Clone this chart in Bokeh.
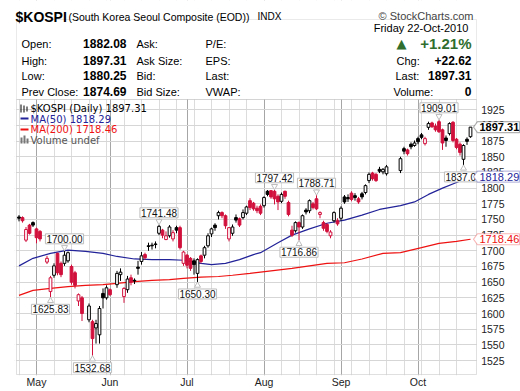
import numpy as np
import pandas as pd
from bokeh.plotting import figure
from bokeh.models import (Range1d, FixedTicker, Label, BoxAnnotation, PolyAnnotation,
                          ColumnDataSource)
from bokeh.embed import file_html
from bokeh.resources import INLINE

# ---------------- data ----------------
dates = pd.bdate_range("2010-04-26", "2010-10-22")   # one slot per weekday
prior_close = 1745.0
open_ = [1754, 1753, 1717, 1741, 1745, 1735, 1731, None, 1682, 1635,
         1661, 1696, 1680, 1680, 1684, 1675, 1665, 1620, 1625, None,
         1590, 1587, 1577, 1566, 1632, 1625, 1638, None, 1646, 1662,
         1627, 1638, 1657, 1653, 1674, 1683, 1694, 1708, 1709, 1711,
         1728, 1733, 1718, 1724, 1719, 1737, 1737, 1680, 1693, 1688,
         1684, 1664, 1692, 1693, 1708, 1727, 1741, 1756, 1761, 1756,
         1719, 1728, 1753, 1751, 1753, 1760, 1780, 1776, 1768, 1771,
         1772, 1795, 1796, 1795, 1787, 1779, 1795, 1777, 1733, 1732,
         1745, 1738, 1765, 1764, 1775, 1783, 1758, 1745, 1742, 1724,
         1748, 1748, 1752, 1786, 1785, 1792, 1788, 1783, 1791, 1793,
         1812, 1824, 1822, 1830, 1826, 1823, None, None, None, 1828,
         1863, 1861, 1870, 1868, 1879, 1885, 1871, 1897, 1904, 1899,
         1906, 1893, 1880, 1887, 1905, 1878, 1870, 1846, 1878, 1882.08]
high = [1757, 1755, 1738, 1743, 1747, 1737, 1733, None, 1692, 1660,
        1680, 1697, 1683, 1700.00, 1699, 1678, 1668, 1632, 1628, None,
        1616, 1590, 1590, 1612, 1640, 1645, 1640, None, 1668, 1672,
        1642, 1660, 1662, 1656, 1684, 1698, 1697, 1713, 1713, 1715,
        1741.48, 1735, 1731, 1741, 1733, 1740, 1740, 1700, 1695, 1690,
        1688, 1688, 1694, 1708, 1728, 1737, 1744, 1764, 1763, 1758,
        1738, 1742, 1758, 1753, 1766, 1772, 1784, 1778, 1772, 1774,
        1787, 1797, 1797, 1797.42, 1790, 1793, 1796, 1780, 1740, 1747,
        1747, 1758, 1768, 1782, 1778, 1788.71, 1763, 1748, 1744, 1733,
        1763, 1752, 1771, 1789, 1790, 1795, 1792, 1786, 1794, 1806,
        1825, 1826, 1824, 1834, 1832, 1837, None, None, None, 1850,
        1866, 1863, 1873, 1876, 1882, 1888, 1882, 1906, 1906, 1903,
        1909.01, 1895, 1884, 1905, 1907, 1880, 1873, 1870, 1881, 1897.31]
low = [1747, 1745, 1714, 1726, 1738, 1712, 1715, None, 1679, 1625.83,
       1657, 1661, 1658, 1676, 1681, 1646, 1640, 1612, 1588, None,
       1586, 1532.68, 1552, 1552, 1608, 1622, 1628, None, 1641, 1652,
       1617, 1633, 1645, 1647, 1662, 1678, 1686, 1700, 1702, 1704,
       1725, 1720, 1717, 1721, 1715, 1728, 1702, 1676, 1672, 1668,
       1662, 1650.30, 1680, 1688, 1705, 1722, 1732, 1750, 1752, 1735,
       1715, 1724, 1745, 1738, 1750, 1757, 1765, 1764, 1760, 1757,
       1769, 1787, 1783, 1774, 1765, 1776, 1783, 1755, 1722, 1729,
       1716.86, 1735, 1758, 1760, 1766, 1765, 1752, 1732, 1728, 1720,
       1745, 1740, 1748, 1775, 1778, 1779, 1780, 1775, 1782, 1790,
       1808, 1812, 1810, 1824, 1822, 1820, None, None, None, 1824,
       1854, 1852, 1862, 1866, 1870, 1878, 1868, 1893, 1896, 1890,
       1888, 1861, 1866, 1884, 1873, 1862, 1852, 1837.06, 1869, 1880.25]
close = [1752, 1748, 1734, 1728, 1741, 1721, 1719, None, 1688, 1657,
         1676, 1665, 1662, 1693, 1697, 1650, 1645, 1630, 1600, None,
         1612, 1560, 1584, 1608, 1625, 1641, 1630, None, 1664, 1666,
         1640, 1655, 1650, 1652, 1672, 1692, 1689, 1707, 1708, 1710,
         1739, 1725, 1724, 1738, 1729, 1733, 1705, 1698, 1677, 1672,
         1678, 1686, 1683, 1705, 1724, 1735, 1737, 1761, 1756, 1740,
         1737, 1738, 1749, 1741, 1761, 1770, 1769, 1767, 1764, 1760,
         1785, 1790, 1786, 1783, 1778, 1790, 1787, 1758, 1725, 1745,
         1738, 1756, 1762, 1780, 1769, 1767, 1761, 1736, 1731, 1730,
         1761, 1743, 1768, 1778, 1783, 1782, 1785, 1778, 1786, 1804,
         1822, 1815, 1812, 1827, 1830, 1834, None, None, None, 1847,
         1859, 1855, 1866, 1872, 1874, 1881, 1879, 1903, 1898, 1893,
         1890, 1872, 1876, 1903, 1876, 1865, 1857, 1868, 1874.69, 1897.31]

# moving averages (slot index, value)
ma50_idx = [0, 4, 9, 14, 19, 24, 28, 33, 38, 43, 47, 52, 55, 59, 63, 67, 69,
            74, 78, 83, 88, 93, 98, 103, 109, 113, 117, 121, 125, 129]
ma50_val = [1676, 1688, 1696, 1701, 1699, 1696, 1691, 1687, 1686, 1686, 1685,
            1680, 1678, 1680, 1686, 1694, 1697, 1713, 1725, 1735, 1744, 1749,
            1757, 1766, 1772, 1778, 1790, 1800, 1809, 1818.29]
ma200_idx = [0, 4, 9, 14, 19, 24, 28, 33, 38, 43, 47, 52, 57, 61, 66, 69, 78,
             88, 93, 98, 104, 109, 115, 120, 125, 129]
ma200_val = [1629, 1637, 1640, 1643, 1645, 1646, 1648, 1651, 1653, 1654, 1656,
             1658, 1659, 1661, 1664, 1666, 1672, 1680, 1681, 1687, 1696, 1697,
             1705, 1712, 1715, 1718.46]

peak_idx = [13, 40, 73, 85, 120]
trough_idx = [9, 21, 51, 80, 127]
y_ticks = [1525, 1550, 1575, 1600, 1625, 1650, 1675, 1700, 1725, 1750,
           1775, 1800, 1825, 1850, 1875, 1900, 1925]
month_names = ["May", "Jun", "Jul", "Aug", "Sep", "Oct"]

# ---------------- derived ----------------
df = pd.DataFrame({"date": dates, "o": open_, "h": high, "l": low, "c": close}, dtype=object)
df[["o", "h", "l", "c"]] = df[["o", "h", "l", "c"]].astype(float)
df["x"] = np.arange(len(df))
prev = df["c"].ffill().shift(1).fillna(prior_close)
RED, BLACK = "#d1103c", "#000000"
df["col"] = np.where(df["c"] < prev, RED, BLACK)
df["fill"] = np.where(df["c"] > df["o"], "white", df["col"])
df["top"] = df[["o", "c"]].max(axis=1)
df["bot"] = df[["o", "c"]].min(axis=1)
d = df.dropna(subset=["c"])
src = ColumnDataSource(dict(x=d["x"], h=d["h"], l=d["l"], top=d["top"], bot=d["bot"],
                            col=d["col"], fill=d["fill"]))

month_idx = [int(np.where(dates.month == m)[0][0]) for m in [5, 6, 7, 8, 9, 10]]
week_idx = [i for i, dt in enumerate(dates) if dt.weekday() == 0]

# ---------------- geometry (page pixels) ----------------
W, H = 520, 391
FRAME_L, FRAME_R, FRAME_T, FRAME_B = 14, 520, 0, 375     # plotting frame on the canvas
CH_L, CH_R, CH_T, CH_B = 16, 476, 99, 374                # price chart box
SLOT0, SLOT = 18.5, 3.5                                   # x of slot 0, slot width
V_T, V_B = 1941.4, 1502.7                                 # values at chart top / bottom
ppu = (CH_B - CH_T) / (V_T - V_B)
x_lo = (FRAME_L - SLOT0) / SLOT
x_hi = (FRAME_R - SLOT0) / SLOT
y_lo = V_B - (FRAME_B - CH_B) / ppu
y_hi = V_T + (CH_T - FRAME_T) / ppu
x_chart_right = (CH_R - SLOT0) / SLOT

def sx(px):
    return px - FRAME_L

def sy(py):
    return FRAME_B - py

p = figure(width=W, height=H, output_backend="svg", toolbar_location=None,
           x_range=Range1d(x_lo, x_hi), y_range=Range1d(y_lo, y_hi),
           y_axis_location="left", min_border_left=FRAME_L, min_border_right=0,
           min_border_top=0, min_border_bottom=H - FRAME_B)
p.background_fill_color = "white"
p.border_fill_color = "white"
p.outline_line_color = None

p.xaxis.ticker = FixedTicker(ticks=month_idx, minor_ticks=week_idx)
p.xaxis.major_label_overrides = {i: n for i, n in zip(month_idx, month_names)}
p.xaxis.axis_line_color = None
p.xaxis.major_tick_line_color = None
p.xaxis.minor_tick_line_color = None
p.xaxis.major_tick_out = 0
p.xaxis.minor_tick_out = 0
p.xaxis.major_label_standoff = 0
p.xaxis.major_label_text_font = "Liberation Sans"
p.xaxis.major_label_text_font_size = "10.5px"
p.xaxis.major_label_text_color = "#222222"
p.xgrid.grid_line_color = "#a6a6a6"
p.xgrid.minor_grid_line_color = "#dcdcdc"

# price axis: drawn at the right edge of the chart box, labels to its right
p.yaxis.ticker = FixedTicker(ticks=y_ticks)
p.yaxis.fixed_location = x_chart_right
p.yaxis.axis_line_color = None
p.yaxis.major_tick_line_color = None
p.yaxis.minor_tick_line_color = None
p.yaxis.major_tick_out = 0
p.yaxis.major_tick_in = 0
p.yaxis.minor_tick_out = 0
p.yaxis.major_label_standoff = -28
p.yaxis.major_label_text_font = "Liberation Sans"
p.yaxis.major_label_text_font_size = "10.5px"
p.yaxis.major_label_text_color = "#222222"
p.ygrid.grid_line_color = "#d6d6d6"

def sbox(l, r, t, b, fill, line=None, level="annotation"):
    p.add_layout(BoxAnnotation(left=sx(l), right=sx(r), top=sy(t), bottom=sy(b),
                               left_units="screen", right_units="screen",
                               top_units="screen", bottom_units="screen",
                               fill_color=fill, fill_alpha=1 if fill else 0,
                               line_color=line, line_width=1, level=level))

# masks so the grid stays inside the chart box
sbox(FRAME_L, FRAME_R, FRAME_T, CH_T, "white", level="underlay")
sbox(CH_R, FRAME_R, FRAME_T, FRAME_B, "white", level="underlay")
sbox(FRAME_L, CH_L, FRAME_T, FRAME_B, "white", level="underlay")
sbox(FRAME_L, FRAME_R, CH_B, FRAME_B, "white", level="underlay")

# moving averages
p.line(ma200_idx, ma200_val, line_color="#ee1111", line_width=1.2)
p.line(ma50_idx, ma50_val, line_color="#222299", line_width=1.2)

# candles
p.segment(x0="x", y0="l", x1="x", y1="h", line_color="col", line_width=1, source=src)
p.vbar(x="x", width=0.78, top="top", bottom="bot", fill_color="fill",
       line_color="col", line_width=1, source=src)

# borders
sbox(CH_L, CH_R, CH_T, CH_B, None, line="#999999")
sbox(CH_L, CH_R, 19, CH_T, None, line="#bbbbbb")

# swing labels
def box_label(i, v, above):
    p.add_layout(Label(x=i, y=v, text=f"{v:.2f}", text_align="center",
                       text_baseline="bottom" if above else "top",
                       y_offset=7 if above else -7, text_font="Liberation Sans",
                       text_font_size="10px", text_color="#111111",
                       background_fill_color="white", border_line_color="#bdbdbd",
                       padding=1))

for i in peak_idx:
    box_label(i, df["h"][i], True)
for i in trough_idx:
    box_label(i, df["l"][i], False)
p.scatter(peak_idx, [df["h"][i] + 3.5 / ppu for i in peak_idx],
          marker="inverted_triangle", size=6, fill_color="white", line_color="#bdbdbd")
p.scatter(trough_idx, [df["l"][i] - 3.5 / ppu for i in trough_idx],
          marker="triangle", size=6, fill_color="white", line_color="#bdbdbd")

# price tags right of the chart
def tag(v, color, bold):
    hh = 5.5 / ppu
    p.add_layout(PolyAnnotation(xs=[sx(CH_R - 3), sx(CH_R + 1), sx(FRAME_R - 1),
                                    sx(FRAME_R - 1), sx(CH_R + 1)],
                                ys=[v, v + hh, v + hh, v - hh, v - hh],
                                xs_units="screen", ys_units="data",
                                fill_color="white", fill_alpha=1, line_color=color,
                                line_width=1.2))
    p.add_layout(Label(x=sx(CH_R + 3), x_units="screen", y=v, text=f"{v:.2f}",
                       text_align="left", text_baseline="middle",
                       text_font="Liberation Sans", text_font_size="11px",
                       text_font_style="bold" if bold else "normal",
                       text_color=color))
tag(ma200_val[-1], "#ee1111", False)
tag(ma50_val[-1], "#222299", False)
tag(close[-1], "#000000", True)

# ---------------- header / info box ----------------
def txt(t, x, y, size="11px", bold=False, color="#000000", align="left",
        font="Liberation Sans", baseline="middle"):
    p.add_layout(Label(x=sx(x), y=sy(y), x_units="screen", y_units="screen", text=t,
                       text_align=align, text_baseline=baseline, text_font=font,
                       text_font_size=size, text_color=color,
                       text_font_style="bold" if bold else "normal"))

txt("$KOSPI", 15, 16, size="14px", bold=True, baseline="alphabetic")
txt("(South Korea Seoul Composite (EOD))", 68, 16, size="10.5px", baseline="alphabetic")
txt("INDX", 257, 16, size="10px", baseline="alphabetic")
txt("\u00a9 StockCharts.com", 473, 15, size="11px", color="#444444", align="right",
    baseline="alphabetic")

rows = [43, 60, 75, 91]
for lab_, y in zip(["Open:", "High:", "Low:", "Prev Close:"], rows):
    txt(lab_, 21, y)
vals = [open_[-1], high[-1], low[-1], close[-2]]
for v, y in zip(vals, rows):
    txt(f"{v:.2f}", 126, y, size="12px", bold=True, align="right")
for lab_, y in zip(["Ask:", "Ask Size:", "Bid:", "Bid Size:"], rows):
    txt(lab_, 136, y)
for lab_, y in zip(["P/E:", "EPS:", "Last:", "VWAP:"], rows):
    txt(lab_, 205, y)

chg = close[-1] - close[-2]
pct = chg / close[-2] * 100
GREEN = "#2f6e2f"
txt("Friday  22-Oct-2010", 471, 27, align="right")
txt("\u25b2", 396, 43, size="13px", color=GREEN, font="DejaVu Sans")
txt(f"+{pct:.2f}%", 471, 43, size="15px", bold=True, color=GREEN, align="right")
txt("Chg:", 396, 60)
txt(f"+{chg:.2f}", 471, 60, size="12px", bold=True, align="right")
txt("Last:", 395, 75)
txt(f"{close[-1]:.2f}", 471, 75, size="12px", bold=True, align="right")
txt("Volume:", 393, 91)
txt("0", 471, 91, size="12px", bold=True, align="right")

# legend
sbox(20, 21, 104, 112, "#000000")
sbox(23, 24, 105, 112, "#000000")
sbox(26, 27, 106, 111, "#000000")
sbox(20, 28, 117, 119, "#222299")
sbox(20, 28, 128, 130, "#ee1111")
sbox(20, 22, 137, 143, "#777777")
sbox(23, 25, 135, 143, "#777777")
sbox(26, 28, 138, 143, "#777777")
txt(f"$KOSPI (Daily) {close[-1]:.2f}", 30, 108, size="10px", font="DejaVu Sans")
txt(f"MA(50) {ma50_val[-1]:.2f}", 30, 118.5, size="10px", font="DejaVu Sans", color="#222299")
txt(f"MA(200) {ma200_val[-1]:.2f}", 30, 129, size="10px", font="DejaVu Sans", color="#ee1111")
txt("Volume undef", 30, 139.5, size="10px", font="DejaVu Sans", color="#555555")

open("out.html", "w").write(file_html(p, INLINE))
